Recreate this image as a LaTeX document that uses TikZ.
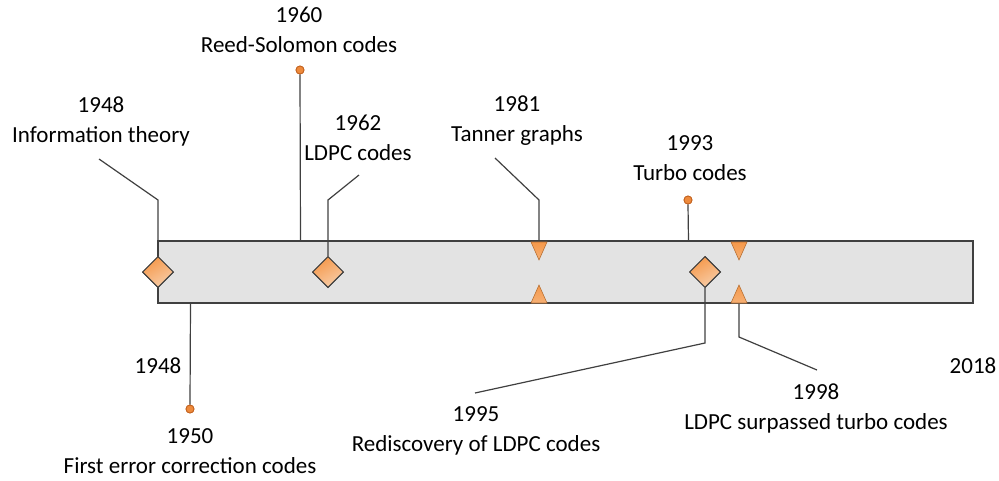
\documentclass[tikz,border=0pt]{standalone}
\usepackage{fontspec}
\setmainfont{Carlito}
\usetikzlibrary{shapes.geometric}
\definecolor{barfill}{HTML}{E3E3E3}
\definecolor{linegrey}{HTML}{404040}
\definecolor{markdark}{HTML}{F5984A}
\definecolor{marklight}{HTML}{F8CDA8}
\definecolor{dotfill}{HTML}{EE8A3C}
\definecolor{dotedge}{HTML}{C2611E}
\tikzset{
  event/.style={font=\fontsize{23}{30}\selectfont, align=center, inner sep=0pt},
  leader/.style={draw=linegrey, line width=1.2pt},
  milestone/.style={diamond, draw=linegrey, line width=1pt, inner sep=0pt,
    minimum size=31pt, top color=markdark, bottom color=marklight, shading angle=30},
  pin/.style={circle, fill=dotfill, draw=dotedge, line width=0.8pt, inner sep=0pt, minimum size=8pt},
  tick/.style={draw=markdark!75!black, line width=0.6pt, top color=markdark, bottom color=markdark!55!marklight}
}
\begin{document}
\begin{tikzpicture}[x=1pt, y=-1pt]
  \useasboundingbox (0,0) rectangle (999,480);

  % the time bar
  \draw[fill=barfill, draw=linegrey, line width=1.1pt] (158,241) rectangle (973,303);
  \node[event] (start) at (158,366) {1948};
  \node[event] (end) at (973,366) {2018};

  % markers on the bar
  \node[milestone] (info) at (158,272) {};
  \node[milestone] (ldpc) at (328,272) {};
  \node[milestone] (redisc) at (705,272) {};
  \node[pin] (rs) at (300,70) {};
  \node[pin] (turbo) at (688,200) {};
  \node[pin] (ecc) at (190,409) {};
  \coordinate (tannerT) at (539,242);
  \coordinate (tannerB) at (539,303);
  \coordinate (surpT) at (739,242);
  \coordinate (surpB) at (739,303);

  % labels
  \node[event] (infoL) at (101,121) {1948\\Information theory};
  \node[event] (rsL) at (299,30) {1960\\Reed-Solomon codes};
  \node[event] (ldpcL) at (358,138) {1962\\LDPC codes};
  \node[event] (tannerL) at (517,121) {1981\\Tanner graphs};
  \node[event] (turboL) at (690,158) {1993\\Turbo codes};
  \node[event] (eccL) at (190,451) {1950\\First error correction codes};
  \node[event] (redL) at (476,431) {1995\\Rediscovery of LDPC codes};
  \node[event] (surpL) at (816,408) {1998\\LDPC surpassed turbo codes};

  % leader bends and free ends
  \coordinate (infoK) at (158,200);
  \coordinate (infoE) at (99,159);
  \coordinate (ldpcK) at (328,200);
  \coordinate (ldpcE) at (359,175);
  \coordinate (tannerK) at (539,200);
  \coordinate (tannerE) at (495,158);
  \coordinate (redK) at (705,343);
  \coordinate (redE) at (475,393);
  \coordinate (surpK) at (739,337);
  \coordinate (surpE) at (817,370);

  % leaders
  \draw[leader] (info.north) -- (infoK) -- (infoE);
  \draw[leader] (ldpc.north) -- (ldpcK) -- (ldpcE);
  \draw[leader] (tannerT) -- (tannerK) -- (tannerE);
  \draw[leader] (redisc.south) -- (redK) -- (redE);
  \draw[leader] (surpB) -- (surpK) -- (surpE);
  \draw[leader] (rs.south) -- (300.5,241);
  \draw[leader] (turbo.south) -- (688.5,241);
  \draw[leader] (190.5,303) -- (ecc.north);

  % redraw markers on top of the leaders
  \node[milestone] at (info) {};
  \node[milestone] at (ldpc) {};
  \node[milestone] at (redisc) {};
  \node[pin] at (rs) {};
  \node[pin] at (turbo) {};
  \node[pin] at (ecc) {};
  \foreach \p in {tannerT, surpT}
    \draw[tick] (\p) ++(-8,0) -- ++(16,0) -- ++(-8,18) -- cycle;
  \foreach \p in {tannerB, surpB}
    \draw[tick] (\p) ++(-8,0) -- ++(16,0) -- ++(-8,-18) -- cycle;
\end{tikzpicture}
\end{document}
